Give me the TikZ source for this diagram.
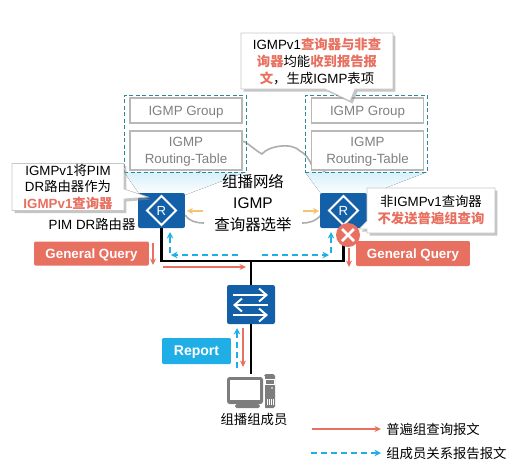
\documentclass[tikz,border=0pt]{standalone}
\usepackage{fontspec}
\setmainfont{Liberation Sans}
\newfontfamily\cjk{Noto Sans CJK SC}
\usetikzlibrary{arrows.meta,positioning,shadows,shapes.callouts,shapes.geometric}
\definecolor{HwBlue}{RGB}{20,96,168}
\definecolor{MsgRed}{RGB}{232,112,96}
\definecolor{MsgBlue}{RGB}{32,174,230}
\definecolor{OrangeTip}{RGB}{246,196,110}
\definecolor{BoxTeal}{RGB}{45,135,155}
\definecolor{PcGray}{RGB}{125,125,125}
\newcommand{\cn}[1]{{\cjk #1}}
\newcommand{\hot}[1]{{\bfseries\color{MsgRed}#1}}
\tikzset{
  router/.style={rounded corners=1.2pt,fill=HwBlue,minimum width=9.4mm,minimum height=7mm,inner sep=0pt},
  routermark/.style={diamond,draw=white,line width=1.1pt,minimum size=6mm,inner sep=0pt,
                     text=white,font=\fontsize{7.5}{8}\selectfont},
  switchbox/.style={rounded corners=1.2pt,fill=HwBlue,minimum width=9.6mm,minimum height=7.8mm,inner sep=0pt},
  swarrow/.style={-{Straight Barb[length=1.5mm,width=2.6mm]},white,line width=1.1pt},
  tablebox/.style={draw=black!28,line width=0.7pt,fill=white,text=black!50,align=center,inner sep=0pt,
                   text depth=0pt,minimum width=22.4mm,font=\fontsize{7.6}{10}\selectfont},
  groupbox/.style={draw=BoxTeal,dash pattern=on 0.8mm off 0.5mm,line width=0.5pt},
  msgbox/.style={rounded corners=0.8pt,text=white,inner sep=0pt,text height=1.9mm,text depth=0pt,
                 font=\bfseries\fontsize{7.6}{9}\selectfont},
  tip/.style={rectangle callout,draw=black!22,fill=white,align=center,inner sep=0pt,
              font=\fontsize{7.6}{9.6}\selectfont,
              drop shadow={shadow xshift=0.5mm,shadow yshift=-0.5mm,fill=black!45}},
  label/.style={font=\fontsize{7.6}{9}\selectfont,inner sep=0pt},
  link/.style={black,line width=1.4pt},
  cloudline/.style={black!32,line width=0.9pt},
  fan/.style={top color=MsgBlue!18,bottom color=white,draw=none},
  qry/.style={-{Stealth[length=1.3mm,width=1.2mm]},MsgRed,line width=0.7pt},
  rpt/.style={-{Stealth[length=1.3mm,width=1.3mm]},MsgBlue,dash pattern=on 1.2mm off 0.8mm,line width=0.7pt},
  elect/.style={-{Stealth[length=1.2mm,width=1.3mm]},OrangeTip,line width=0.7pt},
}
\begin{document}
\begin{tikzpicture}[x=0.02cm,y=-0.02cm]
  \useasboundingbox (0,0) rectangle (523,468);
  % cloud
  \draw[cloudline] (174,193) .. controls (178,180) and (190,174) .. (200,172)
     .. controls (205,150) and (230,135) .. (245,142)
     .. controls (250,145) and (255,150) .. (262,154)
     .. controls (268,146) and (292,142) .. (300,151)
     .. controls (305,153) and (310,160) .. (312,166)
     .. controls (324,168) and (334,178) .. (334,193);
  \draw[cloudline] (185,215) .. controls (189,221) and (196,223) .. (204,223);
  \draw[cloudline] (302,223) .. controls (310,223) and (316,221) .. (321,215);
  \fill[fan] (124,172) -- (246,172) -- (185,195) -- (140,195) -- cycle;
  \fill[fan] (305,172) -- (427,172) -- (367,195) -- (322,195) -- cycle;
  % tables
  \node[groupbox,minimum width=24.4mm,minimum height=15.4mm] (dashL) at (185,133.5) {};
  \node[groupbox,minimum width=24.4mm,minimum height=15.4mm] (dashR) at (366,133.5) {};
  \node[tablebox,minimum height=5mm] (groupL) at (186,110.5) {IGMP Group};
  \node[tablebox,minimum height=7.8mm] (tableL) at (186,150.5) {IGMP\\Routing-Table};
  \node[tablebox,minimum height=5mm] (groupR) at (367.5,110.5) {IGMP Group};
  \node[tablebox,minimum height=7.8mm] (tableR) at (367.5,150.5) {IGMP\\Routing-Table};
  % devices
  \node[router] (rtL) at (161.5,210.5) {};
  \node[routermark] at (rtL) {R};
  \node[router] (rtR) at (343.5,210.5) {};
  \node[routermark] at (rtR) {R};
  \node[switchbox] (sw) at (251,304.5) {};
  \draw[swarrow] (233,295) -- (268,295);
  \draw[swarrow] (268,305) -- (233,305);
  \draw[swarrow] (233,315) -- (268,315);
  \node[minimum width=9.6mm,minimum height=6.8mm,inner sep=0pt] (pc) at (251,391) {};
  \fill[PcGray,rounded corners=1pt] (264,374) rectangle (275,408);
  \draw[white,line width=0.3pt] (265,379) rectangle (274,384);
  \fill[white] (272,388) circle (0.9);
  \foreach \x in {267,269,271,273} \draw[white,line width=0.25pt] (\x,399) -- (\x,405);
  \fill[white] (263,376) rectangle (265,408);
  \fill[PcGray,rounded corners=1.5pt] (227,377) rectangle (263,404);
  \fill[white] (230,380) rectangle (260,400);
  \fill[PcGray,rounded corners=1pt] (235,404) rectangle (260,408);
  % links
  \coordinate (hub) at (251,261);
  \draw[link] (rtL) |- (hub) -| (rtR);
  \draw[link] (hub) -- (sw);
  \draw[link] (sw) -- (pc);
  % messages
  \coordinate (qa1) at (153,243);  \coordinate (qa2) at (153,265);
  \coordinate (qb1) at (163,267);  \coordinate (qb2) at (246,267);
  \coordinate (qc1) at (349,248);  \coordinate (qc2) at (349,267);
  \coordinate (qd1) at (243,328);  \coordinate (qd2) at (243,367);
  \draw[qry] (qa1) -- (qa2);
  \draw[qry] (qb1) -- (qb2);
  \draw[qry] (qc1) -- (qc2);
  \draw[qry] (qd1) -- (qd2);
  \coordinate (ra1) at (238,255);  \coordinate (ra2) at (171,255);
  \coordinate (ra3) at (170,253);  \coordinate (ra4) at (170,232);
  \coordinate (rb1) at (262,255);  \coordinate (rb2) at (329,255);
  \coordinate (rb3) at (331,253);  \coordinate (rb4) at (331,232);
  \coordinate (rc1) at (237,368);  \coordinate (rc2) at (237,328);
  \draw[rpt] (ra1) -- (ra2);
  \draw[rpt] (ra3) -- (ra4);
  \draw[rpt] (rb1) -- (rb2);
  \draw[rpt] (rb3) -- (rb4);
  \draw[rpt] (rc1) -- (rc2);
  \coordinate (ea1) at (203,211);  \coordinate (ea2) at (187,211);
  \coordinate (eb1) at (303,211);  \coordinate (eb2) at (319,211);
  \draw[elect] (ea1) -- (ea2);
  \draw[elect] (eb1) -- (eb2);
  % labels
  \node[align=center,inner sep=0pt,font=\fontsize{8.8}{12.4}\selectfont] (core) at (253,203)
    {\cn{组播网络}\\IGMP\\\cn{查询器选举}};
  \node[label] (drname) at (92,224) {PIM DR\cn{路由器}};
  \node[label] (member) at (254,419) {\cn{组播组成员}};
  \node[msgbox,fill=MsgRed,minimum width=23mm,minimum height=4.8mm] (gqL) at (91.5,253.5) {General Query};
  \node[msgbox,fill=MsgRed,minimum width=22.8mm,minimum height=5mm] (gqR) at (413,253.5) {General Query};
  \node[msgbox,fill=MsgBlue,minimum width=13.8mm,minimum height=5.2mm,font=\bfseries\fontsize{8}{9}\selectfont] (rep) at (196.5,351) {Report};
  % callouts
  \node[tip,text depth=0pt,minimum width=30.4mm,minimum height=11.2mm,callout absolute pointer={(350,101)},callout pointer width=6mm] (tipTop) at (317,61)
    {IGMPv1\hot{\cn{查询器与非查}}\\\hot{\cn{询器}}\cn{均能}\hot{\cn{收到报告报}}\\\hot{\cn{文}}\cn{，生成}IGMP\cn{表项}};
  \node[tip,minimum width=22.4mm,minimum height=9.4mm,callout absolute pointer={(148,197)},callout pointer width=2mm] (tipL) at (68,187)
    {IGMPv1\cn{将}PIM\\DR\cn{路由器作为}\\\hot{IGMPv1\cn{查询器}}};
  \node[tip,minimum width=25.6mm,minimum height=9mm,callout absolute pointer={(359,229)},callout pointer width=1.6mm] (tipR) at (431,210.5)
    {\cn{非}IGMPv1\cn{查询器}\\\hot{\cn{不发送普遍组查询}}};
  % stop mark
  \node[circle,fill=MsgRed,minimum size=4.8mm,inner sep=0pt] (stop) at (348,235) {};
  \draw[white,line width=1.5pt] (342,229) -- (354,241);
  \draw[white,line width=1.5pt] (342,241) -- (354,229);
  % legend
  \coordinate (lgA1) at (312,429);  \coordinate (lgB1) at (311,453);
  \node[label,anchor=west] (lgA) at (386,429) {\cn{普遍组查询报文}};
  \node[label,anchor=west] (lgB) at (386,453) {\cn{组成员关系报告报文}};
  \draw[qry,shorten >=1mm] (lgA1) -- (lgA.west);
  \draw[rpt,shorten >=1mm] (lgB1) -- (lgB.west);
\end{tikzpicture}
\end{document}
